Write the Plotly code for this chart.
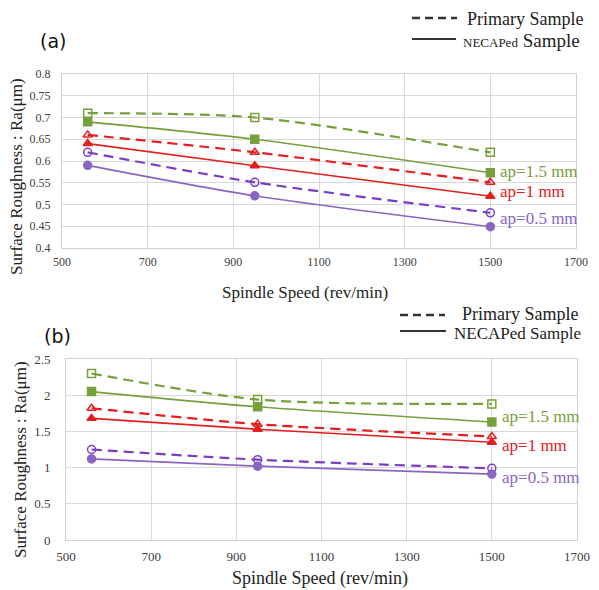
import plotly.graph_objects as go

# ---------------- data ----------------
speed = [560, 950, 1500]

# panel (a)
a_primary_15 = [0.71, 0.70, 0.62]
a_necap_15 = [0.69, 0.65, 0.573]
a_primary_10 = [0.66, 0.62, 0.551]
a_necap_10 = [0.64, 0.589, 0.519]
a_primary_05 = [0.62, 0.551, 0.481]
a_necap_05 = [0.59, 0.52, 0.449]

# panel (b)
b_primary_15 = [2.30, 1.94, 1.88]
b_necap_15 = [2.05, 1.84, 1.63]
b_primary_10 = [1.82, 1.60, 1.43]
b_necap_10 = [1.68, 1.53, 1.35]
b_primary_05 = [1.25, 1.11, 0.99]
b_necap_05 = [1.12, 1.02, 0.91]

x_ticks = [500, 700, 900, 1100, 1300, 1500, 1700]
a_yticks = [0.4, 0.45, 0.5, 0.55, 0.6, 0.65, 0.7, 0.75, 0.8]
b_yticks = [0, 0.5, 1, 1.5, 2, 2.5]

GREEN = "#76A03C"
RED = "#E2201F"
PURPLE_D = "#7A3EC2"
PURPLE_S = "#8A66C2"
SERIF = "Liberation Serif, Times New Roman, serif"

# page body has an 8px margin
OFF = 8
W, H = 599 - OFF, 590 - OFF


def px(x):
    return (x - OFF) / W


def py(y):
    return 1 - (y - OFF) / H


fig = go.Figure()


def add(y, color, dashed, symbol, xa, ya, size=8):
    fig.add_trace(go.Scatter(
        x=speed, y=y, mode="lines+markers", xaxis=xa, yaxis=ya,
        line=dict(color=color, width=2.2 if dashed else 1.6,
                  dash="10px,6px" if dashed else "solid",
                  shape="spline", smoothing=0.8),
        marker=dict(symbol=symbol, size=size, color=color,
                    line=dict(color=color, width=1.5)),
        showlegend=False, hoverinfo="x+y"))


for xa, ya, data in [("x", "y", [a_primary_15, a_necap_15, a_primary_10, a_necap_10, a_primary_05, a_necap_05]),
                     ("x2", "y2", [b_primary_15, b_necap_15, b_primary_10, b_necap_10, b_primary_05, b_necap_05])]:
    add(data[0], GREEN, True, "square-open", xa, ya)
    add(data[1], GREEN, False, "square", xa, ya)
    add(data[2], RED, True, "triangle-up-open", xa, ya)
    add(data[3], RED, False, "triangle-up", xa, ya)
    add(data[4], PURPLE_D, True, "circle-open", xa, ya)
    add(data[5], PURPLE_S, False, "circle", xa, ya)

axis_common = dict(showgrid=True, gridcolor="#D9D9D9", gridwidth=1, automargin=False,
                   zeroline=False, showline=True, linecolor="#D0D0D0",
                   mirror=True, ticks="")
fa = dict(family=SERIF, size=12, color="#404040")
fb = dict(family=SERIF, size=13, color="#404040")

fig.update_layout(
    width=W, height=H, margin=dict(l=0, r=0, t=0, b=0),
    paper_bgcolor="white", plot_bgcolor="white",
    xaxis=dict(domain=[px(62), px(576)], range=[500, 1700], tickvals=x_ticks, anchor="y",
               tickfont=fa, ticklabelstandoff=3, **axis_common),
    yaxis=dict(domain=[py(248), py(74)], range=[0.4, 0.8], tickvals=a_yticks,
               ticktext=[f"{v:g}" for v in a_yticks], anchor="x", tickfont=fa, ticklabelstandoff=8,
               **axis_common),
    xaxis2=dict(domain=[px(66), px(577)], range=[500, 1700], tickvals=x_ticks, anchor="y2",
                tickfont=fb, ticklabelstandoff=4, **axis_common),
    yaxis2=dict(domain=[py(540), py(359)], range=[0, 2.5], tickvals=b_yticks,
                ticktext=[f"{v:g}" for v in b_yticks], anchor="x2", tickfont=fb, ticklabelstandoff=12,
                **axis_common),
)

ann = []
# panel labels
ann.append(dict(text="(a)", x=px(53), y=py(41), font=dict(family="DejaVu Sans", size=19, color="#111")))
ann.append(dict(text="(b)", x=px(57), y=py(336), font=dict(family="DejaVu Sans", size=19, color="#111")))
# axis titles
ann.append(dict(text="Surface Roughness : Ra(μm)", x=px(16), y=py(177), textangle=-90,
                font=dict(family=SERIF, size=17, color="#222")))
ann.append(dict(text="Spindle Speed (rev/min)", x=px(305), y=py(292),
                font=dict(family=SERIF, size=17, color="#222")))
ann.append(dict(text="Surface Roughness : Ra(μm)", x=px(20), y=py(460), textangle=-90,
                font=dict(family=SERIF, size=17, color="#222")))
ann.append(dict(text="Spindle Speed (rev/min)", x=px(320), y=py(578),
                font=dict(family=SERIF, size=18, color="#222")))
# legend texts
ann.append(dict(text="Primary Sample", x=px(465), y=py(19), xanchor="left",
                font=dict(family=SERIF, size=18, color="#222")))
ann.append(dict(text="<span style='font-size:13px'>NECAPed</span> Sample", x=px(461), y=py(40), xanchor="left",
                font=dict(family=SERIF, size=19, color="#222")))
ann.append(dict(text="Primary Sample", x=px(460), y=py(314), xanchor="left",
                font=dict(family=SERIF, size=18, color="#222")))
ann.append(dict(text="NECAPed Sample", x=px(452), y=py(333), xanchor="left",
                font=dict(family=SERIF, size=17, color="#222")))

for a in ann:
    a.setdefault("xanchor", "center")
    a.update(xref="paper", yref="paper", showarrow=False, yanchor="middle")

# series labels (data coordinates)
for txt, yv, col, ya, xa in [("ap=1.5 mm", 0.575, GREEN, "y", "x"), ("ap=1 mm", 0.529, RED, "y", "x"),
                             ("ap=0.5 mm", 0.467, PURPLE_S, "y", "x"),
                             ("ap=1.5 mm", 1.70, GREEN, "y2", "x2"), ("ap=1 mm", 1.31, RED, "y2", "x2"),
                             ("ap=0.5 mm", 0.87, PURPLE_S, "y2", "x2")]:
    ann.append(dict(text=txt, x=1518, y=yv, xref=xa, yref=ya, xanchor="left", yanchor="middle",
                    showarrow=False, font=dict(family=SERIF, size=17, color=col)))

fig.update_layout(annotations=ann)

# legend line samples
shapes = [
    dict(type="line", x0=px(412), x1=px(457), y0=py(18), y1=py(18), line=dict(color="#333", width=2.5, dash="8px,5px")),
    dict(type="line", x0=px(412), x1=px(456), y0=py(39), y1=py(39), line=dict(color="#333", width=2)),
    dict(type="line", x0=px(400), x1=px(445), y0=py(315), y1=py(315), line=dict(color="#333", width=2.5, dash="8px,5px")),
    dict(type="line", x0=px(400), x1=px(446), y0=py(331), y1=py(331), line=dict(color="#333", width=2)),
]
for s in shapes:
    s.update(xref="paper", yref="paper")
fig.update_layout(shapes=shapes)

fig.write_html("out.html")
